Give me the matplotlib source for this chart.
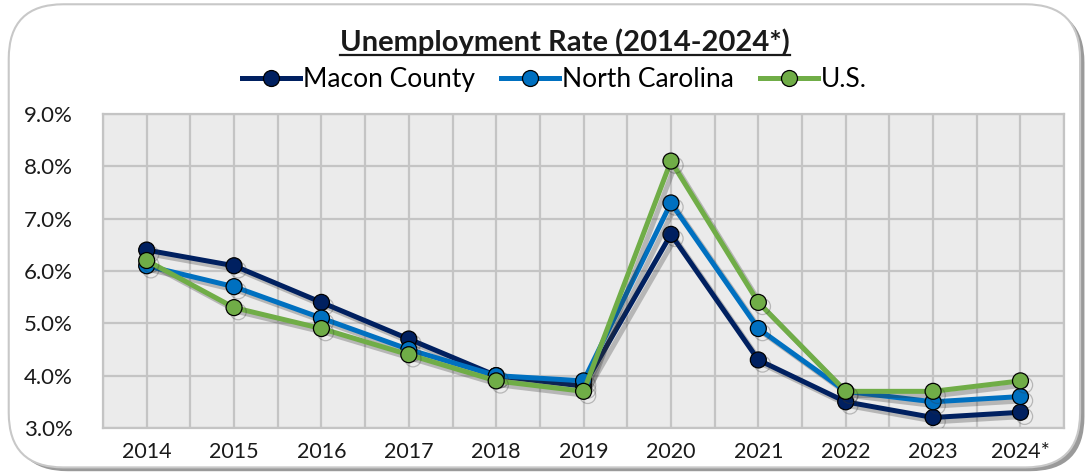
import matplotlib
matplotlib.use("Agg")
import matplotlib.pyplot as plt
import matplotlib.patheffects as pe
from matplotlib.patches import FancyBboxPatch
from matplotlib.lines import Line2D
from matplotlib.ticker import FuncFormatter, MultipleLocator
import numpy as np

plt.rcParams['font.family'] = ['Lato', 'DejaVu Sans']

years = ["2014", "2015", "2016", "2017", "2018", "2019", "2020", "2021", "2022", "2023", "2024*"]
macon = [6.4, 6.1, 5.4, 4.7, 4.0, 3.8, 6.7, 4.3, 3.5, 3.2, 3.3]
nc = [6.1, 5.7, 5.1, 4.5, 4.0, 3.9, 7.3, 4.9, 3.7, 3.5, 3.6]
us = [6.2, 5.3, 4.9, 4.4, 3.9, 3.7, 8.1, 5.4, 3.7, 3.7, 3.9]

series = [("Macon County", macon, "#002060"),
          ("North Carolina", nc, "#0070C0"),
          ("U.S.", us, "#70AD47")]

fig = plt.figure(figsize=(10.91, 4.75), dpi=100)

# outer rounded frame with a soft shadow
shadow = FancyBboxPatch((0.012, 0.008), 0.982, 0.975, boxstyle="round,pad=0,rounding_size=0.05",
                        transform=fig.transFigure, facecolor="#9a9a9a", edgecolor="none",
                        mutation_aspect=1091 / 475, zorder=-3)
frame = FancyBboxPatch((0.008, 0.016), 0.982, 0.975, boxstyle="round,pad=0,rounding_size=0.05",
                       transform=fig.transFigure, facecolor="white", edgecolor="#c8c8c8",
                       linewidth=1.5, mutation_aspect=1091 / 475, zorder=-2)
fig.patches.extend([shadow, frame])

ax = fig.add_axes([0.0944, 0.099, 0.881, 0.661])
ax.set_facecolor("#EBEBEB")

x = np.arange(len(years))
handles = []
for name, vals, col in series:
    ax.plot(x, vals, color=col, lw=3.6, marker="o", markersize=11.5,
            markerfacecolor=col, markeredgecolor="black", markeredgewidth=0.9,
            zorder=3,
            path_effects=[pe.SimpleLineShadow(offset=(3, -3), alpha=0.28, shadow_color="#303030"),
                          pe.Normal()])
    handles.append(Line2D([], [], color=col, lw=3.6, marker="o", markersize=11.5,
                          markerfacecolor=col, markeredgecolor="black", markeredgewidth=0.9,
                          label=name))

ax.set_xlim(-0.5, len(years) - 0.5)
ax.set_ylim(3.0, 9.0)
ax.set_xticks(x)
ax.set_xticklabels(years)
ax.xaxis.set_minor_locator(MultipleLocator(0.5))
ax.yaxis.set_major_locator(MultipleLocator(1.0))
ax.yaxis.set_major_formatter(FuncFormatter(lambda v, p: f"{v:.1f}%"))
ax.grid(True, which="both", axis="x", color="#C4C4C4", lw=1.6)
ax.grid(True, which="major", axis="y", color="#C4C4C4", lw=1.6)
ax.set_axisbelow(True)
for s in ax.spines.values():
    s.set_color("#C4C4C4")
    s.set_linewidth(1.6)
ax.tick_params(which="both", length=0)
ax.tick_params(axis="x", labelsize=15.5, pad=10, colors="#1a1a1a")
ax.tick_params(axis="y", labelsize=16, pad=22, colors="#1a1a1a")

leg = fig.legend(handles=handles, loc="center", bbox_to_anchor=(0.508, 0.832), ncol=3, frameon=False,
                 fontsize=19, handlelength=2.2, handletextpad=0.1, columnspacing=1.0)

title = fig.text(0.518, 0.912, "Unemployment Rate (2014-2024*)", ha="center", va="center",
                 fontsize=21, fontweight="bold", color="#1a1a1a")

# underline the title
fig.canvas.draw()
bb = title.get_window_extent().transformed(fig.transFigure.inverted())
fig.lines.append(Line2D([bb.x0, bb.x1], [bb.y0 + 0.002, bb.y0 + 0.002], transform=fig.transFigure,
                        color="#1a1a1a", lw=1.6))

fig.savefig("out.png", dpi=100)
